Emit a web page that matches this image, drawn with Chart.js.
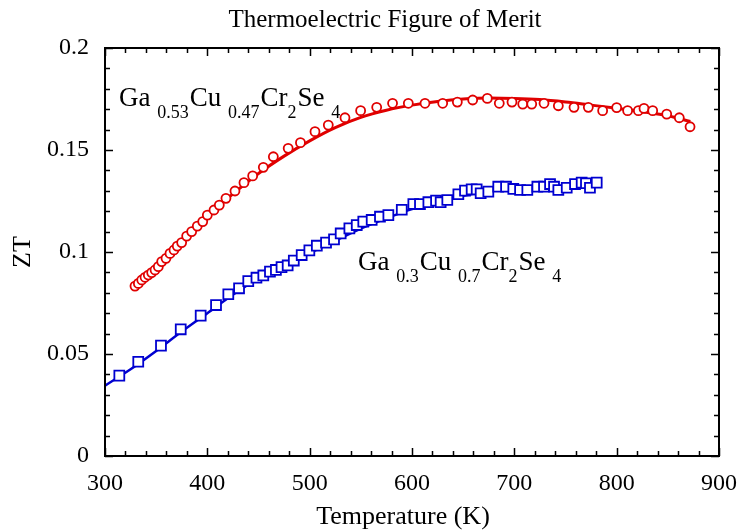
<!DOCTYPE html>
<html>
<head>
<meta charset="utf-8">
<script src="https://cdn.jsdelivr.net/npm/chart.js@4.4.0/dist/chart.umd.min.js"></script>
<style>
    html, body { margin: 0; padding: 0; background: #fff; }
    #wrap { width: 739px; height: 531px; }
</style>
</head>
<body>
<div id="wrap"><canvas id="ztChart"></canvas></div>
<script>
// Ga0.53Cu0.47Cr2Se4 - measured points (circles)
const redT = [329.3, 332.6, 335.9, 339.1, 342.3, 345.6, 348.9, 352.1, 355.4, 359.6, 363.5, 367.4, 370.6, 374.9,
    379.8, 384.7, 390.2, 395.5, 400, 406.5, 411.7, 418.2, 427, 435.8, 444.3, 454.7, 464.5, 479, 491, 505.2,
    518.2, 534.5, 549.8, 565.5, 581, 596.4, 612.7, 630, 644.3, 659.3, 673.6, 685.3, 697.7, 708.2, 717, 729,
    743, 758.3, 772.3, 786.3, 800, 810.7, 821.2, 826.7, 835.2, 848.9, 861.2, 871.7];
const redZT = [0.0833, 0.0846, 0.0863, 0.0876, 0.0887, 0.0899, 0.0912, 0.0928, 0.0953, 0.0969, 0.0993, 0.101, 0.1029, 0.1046,
    0.1078, 0.11, 0.1127, 0.1149, 0.1181, 0.1206, 0.123, 0.1263, 0.1299, 0.134, 0.1373, 0.1415, 0.1467, 0.1508, 0.1536, 0.159,
    0.1622, 0.1658, 0.1693, 0.1709, 0.1729, 0.1729, 0.1729, 0.1729, 0.1735, 0.1745, 0.1753, 0.1729, 0.1735, 0.1725, 0.1725, 0.1729,
    0.1717, 0.1709, 0.1709, 0.1693, 0.1708, 0.1693, 0.1693, 0.1704, 0.1693, 0.1676, 0.1658, 0.1614];
// Ga0.53Cu0.47Cr2Se4 - dense curve
const redLineT = [330, 350, 375, 400, 425, 450, 475, 500, 525, 550, 575, 600, 625, 650, 675, 700, 725, 750, 775, 800, 825, 850, 872];
const redLineZT = [0.083, 0.0925, 0.1055, 0.1175, 0.1285, 0.1385, 0.147, 0.1545, 0.161, 0.166, 0.1695, 0.172, 0.1738, 0.175,
    0.1755, 0.1753, 0.1747, 0.1735, 0.172, 0.1705, 0.1688, 0.1668, 0.164];

// Ga0.3Cu0.7Cr2Se4 - measured points (squares)
const blueT = [314, 332.5, 354.7, 374, 393.5, 408.5, 420.5, 431, 440, 448, 454.7, 461.2, 467, 472.5, 478.5, 484.5, 492.2,
    499.7, 507, 516, 523.8, 530.3, 538.8, 546, 552.4, 560.6, 568.7, 576.9, 590, 601.3, 607.8, 616, 623.5, 628, 634.5,
    645.3, 651.8, 658.3, 663.2, 667.1, 674.6, 684.3, 691.9, 699, 705.6, 712.7, 722.5, 729, 734.9, 738.8, 743, 751.2,
    759.3, 765.8, 770, 773.9, 780.5];
const blueZT = [0.0394, 0.0462, 0.0541, 0.0621, 0.0688, 0.074, 0.0793, 0.0822, 0.0857, 0.0874, 0.0885, 0.0904, 0.0912, 0.0926,
    0.0934, 0.0958, 0.0985, 0.1008, 0.1031, 0.1046, 0.1062, 0.1091, 0.1116, 0.1132, 0.1149, 0.1157, 0.1173, 0.1181, 0.1207,
    0.1235, 0.1235, 0.1244, 0.1252, 0.1244, 0.1255, 0.1283, 0.1301, 0.1307, 0.1307, 0.1288, 0.1296, 0.132, 0.132, 0.1309,
    0.1304, 0.1304, 0.132, 0.132, 0.1333, 0.132, 0.1304, 0.1315, 0.1333, 0.134, 0.1337, 0.1315, 0.134];
// Ga0.3Cu0.7Cr2Se4 - dense curve
const blueLineT = [300, 325, 350, 375, 400, 425, 450, 475, 500, 525, 550, 575, 600, 625, 650, 675, 700, 725, 750, 780];
const blueLineZT = [0.0345, 0.0425, 0.0515, 0.061, 0.07, 0.079, 0.087, 0.0935, 0.0995, 0.1055, 0.1115, 0.1165, 0.121, 0.1245,
    0.1275, 0.13, 0.131, 0.1318, 0.1325, 0.1335];

// compound labels: pieces, sub = subscript; anchored at [T, ZT]
const redLabel = { at: [313.7, 0.1716], parts: [['Ga ', 0], ['0.53', 1], ['Cu ', 0], ['0.47', 1], ['Cr', 0], ['2', 1], ['Se ', 0], ['4', 1]] };
const blueLabel = { at: [547.2, 0.0912], parts: [['Ga ', 0], ['0.3', 1], ['Cu ', 0], ['0.7', 1], ['Cr', 0], ['2', 1], ['Se ', 0], ['4', 1]] };

const FONT = '"Liberation Serif", "DejaVu Serif", serif';
const RED = '#e00000';
const BLUE = '#0000d0';

const toXY = (xs, ys) => xs.map((x, i) => ({ x: x, y: ys[i] }));

// frame, inward ticks on all four sides, title and labels
const decorPlugin = {
    id: 'decor',
    afterDraw(chart) {
        const ctx = chart.ctx;
        const area = chart.chartArea;
        const xs = chart.scales.x;
        const ys = chart.scales.y;
        ctx.save();
        ctx.strokeStyle = '#000';
        ctx.lineWidth = 1.5;
        for (let t = 300; t <= 900; t += 20) {
            const px = Math.round(xs.getPixelForValue(t)) + 0.5;
            const len = (t % 100 === 0) ? 8 : 5;
            ctx.beginPath();
            ctx.moveTo(px, area.bottom); ctx.lineTo(px, area.bottom - len);
            ctx.moveTo(px, area.top); ctx.lineTo(px, area.top + len);
            ctx.stroke();
        }
        for (let k = 0; k <= 20; k++) {
            const py = Math.round(ys.getPixelForValue(k / 100)) + 0.5;
            const len = (k % 5 === 0) ? 8 : 5;
            ctx.beginPath();
            ctx.moveTo(area.left, py); ctx.lineTo(area.left + len, py);
            ctx.moveTo(area.right, py); ctx.lineTo(area.right - len, py);
            ctx.stroke();
        }
        ctx.lineWidth = 2;
        ctx.strokeRect(area.left, area.top, area.right - area.left, area.bottom - area.top);

        ctx.fillStyle = '#000';
        ctx.textAlign = 'center';
        ctx.textBaseline = 'alphabetic';
        ctx.font = '25px ' + FONT;
        ctx.fillText('Thermoelectric Figure of Merit', 385, 27);
        ctx.font = '26px ' + FONT;
        ctx.fillText('Temperature (K)', 403, 524);
        ctx.save();
        ctx.translate(30, 252);
        ctx.rotate(-Math.PI / 2);
        ctx.fillText('ZT', 0, 0);
        ctx.restore();

        ctx.textAlign = 'left';
        [redLabel, blueLabel].forEach(lab => {
            let px = xs.getPixelForValue(lab.at[0]);
            const py = ys.getPixelForValue(lab.at[1]);
            lab.parts.forEach(([txt, sub]) => {
                ctx.font = (sub ? '18px ' : '27px ') + FONT;
                ctx.fillText(txt, px, sub ? py + 12 : py);
                px += ctx.measureText(txt).width + (sub ? 1 : 0);
            });
        });
        ctx.restore();
    }
};

new Chart(document.getElementById('ztChart'), {
    type: 'scatter',
    data: {
        datasets: [
            {
                label: 'Ga0.53 points',
                data: toXY(redT, redZT),
                pointStyle: 'circle',
                pointRadius: 4.5,
                pointBorderWidth: 1.8,
                borderColor: RED,
                backgroundColor: '#fff',
                showLine: false,
                order: 0
            },
            {
                label: 'Ga0.3 points',
                data: toXY(blueT, blueZT),
                pointStyle: 'rect',
                pointRadius: 7,
                pointBorderWidth: 1.8,
                borderColor: BLUE,
                backgroundColor: '#fff',
                showLine: false,
                order: 0
            },
            {
                label: 'Ga0.53 curve',
                data: toXY(redLineT, redLineZT),
                showLine: true,
                pointRadius: 0,
                borderColor: RED,
                borderWidth: 3,
                cubicInterpolationMode: 'monotone',
                order: 1
            },
            {
                label: 'Ga0.3 curve',
                data: toXY(blueLineT, blueLineZT),
                showLine: true,
                pointRadius: 0,
                borderColor: BLUE,
                borderWidth: 2.5,
                cubicInterpolationMode: 'monotone',
                order: 1
            }
        ]
    },
    options: {
        responsive: true,
        maintainAspectRatio: false,
        animation: false,
        layout: { padding: { top: 48, right: 20, left: 0, bottom: 0 } },
        plugins: {
            legend: { display: false },
            tooltip: { enabled: false }
        },
        scales: {
            x: {
                type: 'linear',
                min: 300,
                max: 900,
                grid: { display: false, drawTicks: false },
                border: { display: false },
                ticks: { stepSize: 100, padding: 13, color: '#000', font: { family: FONT, size: 24 } },
                afterFit: s => { s.height = 75; s.paddingLeft = 0; s.paddingRight = 0; }
            },
            y: {
                type: 'linear',
                min: 0,
                max: 0.2,
                grid: { display: false, drawTicks: false },
                border: { display: false },
                ticks: {
                    stepSize: 0.05, padding: 16, color: '#000', font: { family: FONT, size: 24 },
                    callback: v => String(+v.toFixed(2))
                },
                afterFit: s => { s.width = 105; s.paddingTop = 0; s.paddingBottom = 0; }
            }
        }
    },
    plugins: [decorPlugin]
});
</script>
</body>
</html>
